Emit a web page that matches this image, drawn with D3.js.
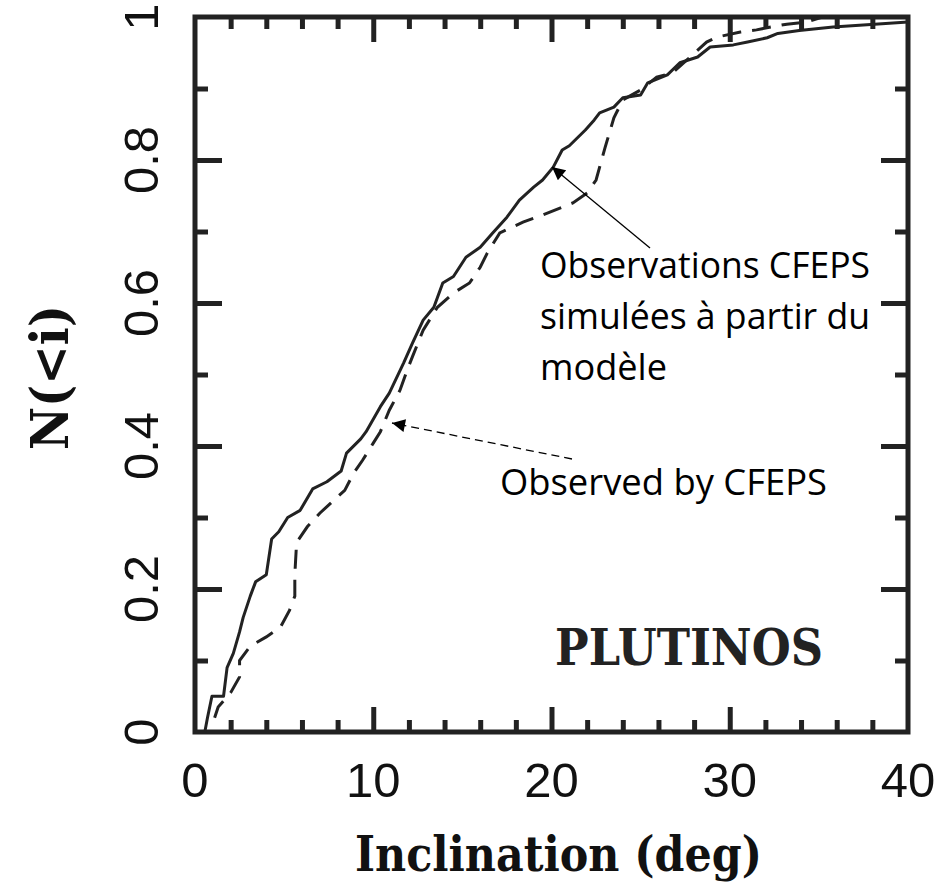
<!DOCTYPE html>
<html>
<head>
<meta charset="utf-8">
<script src="https://cdn.jsdelivr.net/npm/d3@7"></script>
<style>
  body { margin: 0; background: #fff; }
  svg { display: block; }
</style>
</head>
<body>
<svg id="chart" width="948" height="890"></svg>
<script>
// model-simulated CFEPS observations (solid)
const simInc = [0.55, 0.7, 0.95, 1.6, 1.8, 2.15, 2.5, 2.7, 3.1, 3.4, 4.0, 4.3, 4.7, 5.2, 5.9, 6.6, 7.4, 8.2, 8.5, 9.3, 9.6,
  10.4, 10.9, 11.7, 12.2, 12.8, 13.4, 13.9, 14.5, 15.2, 16.0, 16.7, 17.5, 18.2, 19.0, 19.5, 20.1, 20.6, 21.0, 21.9, 22.4,
  22.7, 23.5, 24.0, 25.0, 25.4, 26.5, 27.2, 28.2, 28.9, 30.2, 31.0, 32.1, 32.7, 33.9, 35.8, 37.7, 40];
const simN = [0, 0.02, 0.05, 0.05, 0.09, 0.11, 0.14, 0.16, 0.19, 0.21, 0.22, 0.27, 0.28, 0.30, 0.31, 0.34, 0.35, 0.365, 0.39, 0.41, 0.42,
  0.455, 0.474, 0.516, 0.544, 0.576, 0.594, 0.628, 0.637, 0.664, 0.678, 0.698, 0.72, 0.744, 0.762, 0.772, 0.79, 0.814, 0.82, 0.842, 0.856,
  0.866, 0.874, 0.887, 0.891, 0.908, 0.919, 0.936, 0.944, 0.958, 0.961, 0.965, 0.971, 0.977, 0.981, 0.986, 0.989, 0.993];

// observed by CFEPS (dashed)
const obsInc = [1.1, 1.3, 2.0, 2.5, 2.5, 3.1, 4.0, 4.8, 5.3, 5.6, 5.6, 5.7, 6.3, 7.0, 8.4, 8.9, 9.4, 10.0, 10.4, 10.9, 11.5, 11.9,
  12.2, 12.8, 13.6, 14.5, 15.4, 16.0, 16.4, 17.1, 18.4, 19.5, 21.2, 22.0, 22.5, 22.7, 23.0, 23.5, 24.0, 25.0, 25.9, 26.8, 27.6,
  28.7, 29.3, 30.6, 31.5, 32.3, 33.2, 34.3, 35.2, 40];
const obsN = [0.02, 0.035, 0.055, 0.077, 0.10, 0.12, 0.133, 0.147, 0.17, 0.19, 0.22, 0.265, 0.287, 0.306, 0.338, 0.362, 0.38, 0.404, 0.42, 0.45, 0.478, 0.506,
  0.525, 0.562, 0.594, 0.614, 0.628, 0.65, 0.67, 0.698, 0.713, 0.723, 0.74, 0.754, 0.772, 0.79, 0.817, 0.859, 0.884, 0.898, 0.916, 0.922, 0.94,
  0.965, 0.972, 0.979, 0.982, 0.986, 0.99, 0.993, 1.0, 1.0];

const xTickLabels = [0, 10, 20, 30, 40];
const yTickLabels = [0, 0.2, 0.4, 0.6, 0.8, 1];

const svg = d3.select('#chart');
const x = d3.scaleLinear().domain([0, 40]).range([195, 908]);
const y = d3.scaleLinear().domain([0, 1]).range([732, 17]);

const xMinor = d3.range(2, 40, 2).filter(d => d % 10 !== 0);
const xMajor = [10, 20, 30];
const yMinor = [0.1, 0.3, 0.5, 0.7, 0.9];
const yMajor = [0.2, 0.4, 0.6, 0.8];

// inward ticks on all four sides
function tickAxis(axisFn, scale, values, len, transform) {
  svg.append('g')
    .attr('transform', transform)
    .call(axisFn(scale).tickValues(values).tickSize(len).tickFormat(''))
    .call(g => g.select('.domain').remove())
    .call(g => g.selectAll('line').attr('stroke', '#222').attr('stroke-width', 5));
}
tickAxis(d3.axisBottom, x, xMinor, -12, `translate(0,${y(0)})`);
tickAxis(d3.axisBottom, x, xMajor, -25, `translate(0,${y(0)})`);
tickAxis(d3.axisTop, x, xMinor, -12, `translate(0,${y(1)})`);
tickAxis(d3.axisTop, x, xMajor, -25, `translate(0,${y(1)})`);
tickAxis(d3.axisLeft, y, yMinor, -13, `translate(${x(0)},0)`);
tickAxis(d3.axisLeft, y, yMajor, -27, `translate(${x(0)},0)`);
tickAxis(d3.axisRight, y, yMinor, -13, `translate(${x(40)},0)`);
tickAxis(d3.axisRight, y, yMajor, -27, `translate(${x(40)},0)`);

// frame
svg.append('rect')
  .attr('x', x(0)).attr('y', y(1))
  .attr('width', x(40) - x(0)).attr('height', y(0) - y(1))
  .attr('fill', 'none').attr('stroke', '#222').attr('stroke-width', 5);

// curves
const line = d3.line().x(d => x(d[0])).y(d => y(d[1]));
svg.append('path')
  .datum(d3.zip(simInc, simN))
  .attr('d', line)
  .attr('fill', 'none').attr('stroke', '#222').attr('stroke-width', 3)
  .attr('stroke-linejoin', 'round');
svg.append('path')
  .datum(d3.zip(obsInc, obsN))
  .attr('d', line)
  .attr('fill', 'none').attr('stroke', '#222').attr('stroke-width', 3)
  .attr('stroke-dasharray', '19,11');

// tick labels
const tickFont = '"Liberation Sans", Arial, sans-serif';
svg.append('g').selectAll('text')
  .data(xTickLabels)
  .join('text')
  .attr('x', d => x(d)).attr('y', 797)
  .attr('text-anchor', 'middle')
  .attr('font-family', tickFont).attr('font-size', 49)
  .attr('fill', '#111')
  .text(d => d);
svg.append('g').selectAll('text')
  .data(yTickLabels)
  .join('text')
  .attr('transform', d => `translate(158,${y(d)}) rotate(-90)`)
  .attr('text-anchor', 'middle')
  .attr('font-family', tickFont).attr('font-size', 49)
  .attr('fill', '#111')
  .text(d => d);

// axis titles
const serif = '"DejaVu Serif", serif';
svg.append('text')
  .attr('x', 355).attr('y', 871)
  .attr('font-family', serif).attr('font-weight', 'bold').attr('font-size', 48)
  .attr('textLength', 407).attr('lengthAdjust', 'spacingAndGlyphs')
  .attr('fill', '#111')
  .text('Inclination (deg)');
svg.append('text')
  .attr('transform', 'translate(68,450) rotate(-90)')
  .attr('font-family', serif).attr('font-weight', 'bold').attr('font-size', 52)
  .attr('textLength', 145).attr('lengthAdjust', 'spacingAndGlyphs')
  .attr('fill', '#111')
  .text('N(<i)');
svg.append('text')
  .attr('x', 555).attr('y', 665)
  .attr('font-family', serif).attr('font-weight', 'bold').attr('font-size', 50)
  .attr('textLength', 268).attr('lengthAdjust', 'spacingAndGlyphs')
  .attr('fill', '#222')
  .text('PLUTINOS');

// annotations
const defs = svg.append('defs');
defs.append('marker')
  .attr('id', 'head')
  .attr('viewBox', '0 -5 10 10')
  .attr('refX', 10).attr('refY', 0)
  .attr('markerWidth', 17).attr('markerHeight', 13)
  .attr('markerUnits', 'userSpaceOnUse')
  .attr('orient', 'auto')
  .append('path').attr('d', 'M0,-5L10,0L0,5Z').attr('fill', '#000');

svg.append('line')
  .attr('x1', 650).attr('y1', 248).attr('x2', 552).attr('y2', 167)
  .attr('stroke', '#000').attr('stroke-width', 1.3)
  .attr('marker-end', 'url(#head)');
svg.append('line')
  .attr('x1', 572).attr('y1', 459).attr('x2', 392).attr('y2', 423)
  .attr('stroke', '#000').attr('stroke-width', 1.3)
  .attr('stroke-dasharray', '8,5')
  .attr('marker-end', 'url(#head)');

const noteFont = '"Open Sans", "Noto Sans", sans-serif';
const notes = [
  { text: 'Observations CFEPS', x: 540, y: 278, w: 330 },
  { text: 'simulées à partir du', x: 540, y: 329, w: 330 },
  { text: 'modèle', x: 540, y: 380, w: 127 },
  { text: 'Observed by CFEPS', x: 500, y: 495, w: 327 }
];
svg.append('g').selectAll('text')
  .data(notes)
  .join('text')
  .attr('x', d => d.x).attr('y', d => d.y)
  .attr('font-family', noteFont).attr('font-size', 37)
  .attr('textLength', d => d.w).attr('lengthAdjust', 'spacingAndGlyphs')
  .attr('fill', '#000')
  .text(d => d.text);
</script>
</body>
</html>
